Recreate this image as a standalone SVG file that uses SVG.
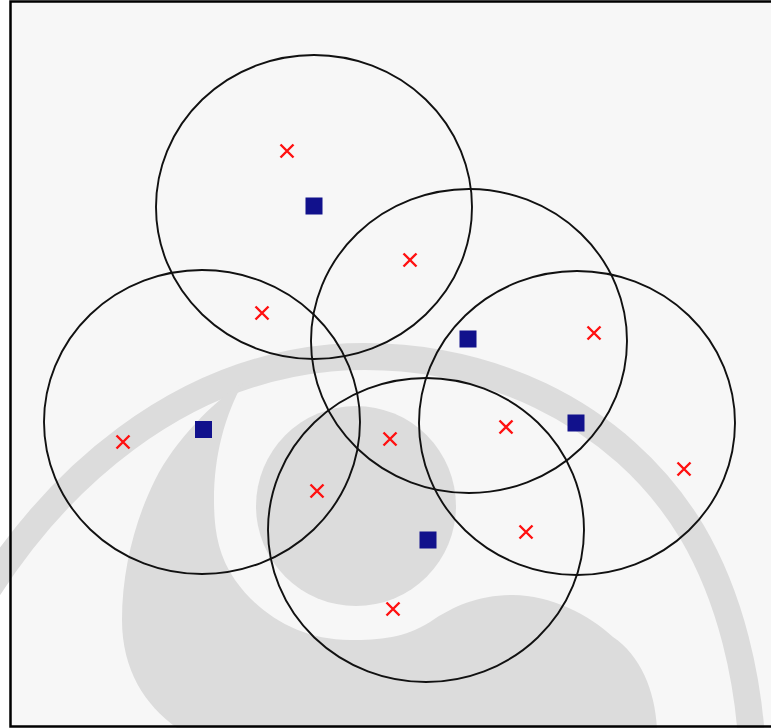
<svg xmlns="http://www.w3.org/2000/svg" width="771" height="728" viewBox="0 0 771 728">
<defs>
<style>
.wm{fill:#dcdcdc}
.ring{fill:none;stroke:#111;stroke-width:1.9}
.sq{fill:#11118c}
.x{stroke:#ff1010;stroke-width:2.4;fill:none}
</style>
<g id="xm"><path class="x" d="M-6.5,-6.5L6.5,6.5M-6.5,6.5L6.5,-6.5"/></g>
<rect id="sqm" class="sq" x="-8.5" y="-8.5" width="17" height="17"/>
</defs>
<rect x="0" y="0" width="771" height="728" fill="#ffffff"/>
<rect x="10" y="1" width="770" height="726" fill="#f7f7f7"/>
<g id="watermark">
<path d="M-25,610 C55,475 180,372 330,358 C480,346 620,412 692,532 C732,600 748,680 752,745" fill="none" stroke="#dcdcdc" stroke-width="27"/>
<path class="wm" d="M243,383 C215,400 175,440 155,480 C135,520 122,570 122,620 C122,670 145,705 177,728 L657,728 C655,690 640,655 613,637 C590,615 550,595 513,595 C480,595 455,605 430,622 C405,638 380,640 350,640 C300,640 260,615 235,580 C218,555 214,530 214,500 C214,455 225,415 243,383 Z"/>
<circle class="wm" cx="356" cy="506" r="100"/>
</g>
<g id="connectors"></g>
<g id="cell1"><ellipse class="ring" cx="314" cy="207" rx="158" ry="152"/></g>
<g id="cell2"><ellipse class="ring" cx="469" cy="341" rx="158" ry="152"/></g>
<g id="cell3"><ellipse class="ring" cx="202" cy="422" rx="158" ry="152"/></g>
<g id="cell4"><ellipse class="ring" cx="577" cy="423" rx="158" ry="152"/></g>
<g id="cell5"><ellipse class="ring" cx="426" cy="530" rx="158" ry="152"/></g>
<g id="stations">
<use href="#sqm" x="314" y="206"/>
<use href="#sqm" x="468" y="339"/>
<use href="#sqm" x="203.5" y="429.5"/>
<use href="#sqm" x="576" y="423"/>
<use href="#sqm" x="428" y="540"/>
</g>
<g id="users">
<use href="#xm" x="287" y="151"/>
<use href="#xm" x="410" y="260"/>
<use href="#xm" x="262" y="313"/>
<use href="#xm" x="594" y="333"/>
<use href="#xm" x="123" y="442"/>
<use href="#xm" x="390" y="439"/>
<use href="#xm" x="506" y="427"/>
<use href="#xm" x="684" y="469"/>
<use href="#xm" x="317" y="491"/>
<use href="#xm" x="526" y="532"/>
<use href="#xm" x="393" y="609"/>
</g>
<path d="M771,1.5 L10.5,1.5 L10.5,726.5 L771,726.5" fill="none" stroke="#000" stroke-width="2.5"/>
</svg>
